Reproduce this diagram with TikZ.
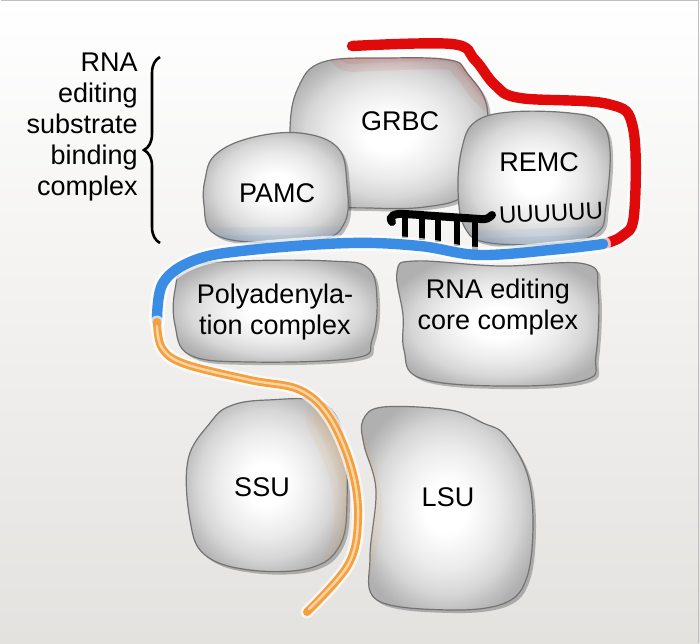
\documentclass[tikz,border=0pt]{standalone}
\usepackage{fontspec}
\setmainfont{Liberation Sans}
\usetikzlibrary{shadows,decorations.pathreplacing}

\definecolor{rnared}{RGB}{225,10,10}
\definecolor{rnablue}{RGB}{58,140,228}
\definecolor{rnaorange}{RGB}{245,160,60}
\definecolor{bgbottom}{RGB}{228,226,223}

\pgfdeclareradialshading{blobshade}{\pgfpoint{0bp}{0bp}}{color(0bp)=(white); color(6bp)=(white);
  color(15bp)=(black!8); color(21bp)=(black!16); color(25bp)=(black!25); color(28bp)=(black!31);
  color(50bp)=(black!31)}

\newcommand\grbcpath{plot[smooth cycle,tension=0.65] coordinates {(323,62) (390,58) (450,60) (467,73)
  (487,107) (482,160) (465,195) (425,207) (370,208) (330,204) (296,180) (290,130) (298,88)}}
\newcommand\pamcpath{plot[smooth cycle,tension=0.65] coordinates {(205,180) (215,155) (250,138) (300,133)
  (338,148) (347,185) (345,222) (320,240) (250,242) (212,232) (204,205)}}
\newcommand\remcpath{plot[smooth cycle,tension=0.65] coordinates {(462,148) (475,122) (510,112) (570,113)
  (600,122) (610,150) (606,205) (598,232) (560,243) (490,243) (465,228) (458,190)}}
\newcommand\polypath{plot[smooth cycle,tension=0.65] coordinates {(175,290) (187,267) (240,261) (330,261)
  (368,268) (377,300) (372,340) (355,358) (250,362) (190,355) (175,325)}}
\newcommand\corepath{plot[smooth cycle,tension=0.65] coordinates {(397,272) (415,261) (500,266) (585,264)
  (598,290) (596,355) (585,380) (500,386) (420,378) (404,350) (403,315)}}
\newcommand\ssupath{plot[smooth cycle,tension=0.65] coordinates {(210,423) (230,406) (267,400) (323,403)
  (343,440) (347,500) (340,545) (310,568) (250,570) (205,555) (190,520) (188,460)}}
\newcommand\lsupath{plot[smooth cycle,tension=0.6] coordinates {(363,420) (383,407) (450,410) (483,423)
  (505,435) (527,473) (533,523) (527,577) (505,603) (450,610) (377,600) (370,557) (376,490) (364,445)}}

\begin{document}
\begin{tikzpicture}[x=0.5pt,y=-0.5pt,
  blob/.style={draw=black!55,line width=0.6pt,shading=blobshade,
    drop shadow={shadow xshift=1.5pt,shadow yshift=-1.5pt,opacity=0.25,fill=black}},
  glow/.style={line width=#1,opacity=0.08,line cap=round},
  lbl/.style={font=\fontsize{13.5}{15.5}\selectfont,align=center,inner sep=0pt},
  rna/.style={line width=5.2pt,line cap=round},
  halo/.style={white,line width=8pt,opacity=0.7,line cap=round},
  tooth/.style={line width=3pt}]

  \shade[top color=white,bottom color=bgbottom] (0,0) rectangle (700,643);
  \draw[black!25,line width=0.5pt] (0.5,0.5) -- (698,0.5) -- (698,643);

  % complexes
  \path[blob] \grbcpath;
  \begin{scope}
    \clip \grbcpath;
    \foreach \w in {10pt,18pt,26pt}
      \draw[glow=\w,rnared] plot[smooth,tension=0.6] coordinates {(352,46) (452,44) (475,60) (495,85)
        (520,98) (605,104)};
  \end{scope}
  \path[blob] \pamcpath;
  \path[blob] \remcpath;
  \path[blob] \polypath;
  \path[blob] \corepath;
  \path[blob] \ssupath;
  \path[blob] \lsupath;
  \begin{scope}
    \clip \pamcpath;
    \foreach \w in {8pt,16pt,24pt}
      \draw[glow=\w,rnablue] (200,252) -- (350,250);
  \end{scope}
  \begin{scope}
    \clip \remcpath;
    \foreach \w in {8pt,16pt,24pt}
      \draw[glow=\w,rnablue] (470,255) -- (603,250);
  \end{scope}
  \begin{scope}
    \clip \ssupath;
    \foreach \w in {8pt,16pt,24pt}
      \draw[glow=\w,rnaorange] plot[smooth,tension=0.6] coordinates {(330,418) (352,470) (358,520) (348,565)};
  \end{scope}
  \begin{scope}
    \clip \lsupath;
    \foreach \w in {8pt,16pt,24pt}
      \draw[glow=\w,rnaorange] plot[smooth,tension=0.6] coordinates {(330,418) (352,470) (358,520) (348,565)};
  \end{scope}

  \node[lbl] (GRBC)  at (400,121) {GRBC};
  \node[lbl] (PAMC)  at (277,193) {PAMC};
  \node[lbl] (REMC)  at (539,162) {REMC};
  \node[lbl] (PolyA) at (275,312) {Polyadenyla-\\tion complex};
  \node[lbl] (Core)  at (498,307) {RNA editing\\core complex};
  \node[lbl] (SSU)   at (262,487) {SSU};
  \node[lbl] (LSU)   at (448,497) {LSU};
  \node[lbl,font=\fontsize{12}{12}\selectfont,rotate=3] (Utail) at (551,213) {UUUUUU};

  \node[lbl,align=right,anchor=east] (Subst) at (138,127) {RNA\\editing\\substrate\\binding\\complex};
  \draw[decorate,decoration={brace,amplitude=8pt},line width=1.3pt] (160,243) -- (160,57);

  % guide RNA
  \draw[line width=4pt,line cap=round] (392,222) .. controls (388,216) and (395,213) .. (405,214)
    -- (480,219) .. controls (486,220) and (489,218) .. (492,215);
  \foreach \x/\y in {405/238,422/240,438/242,457/246,475/250}
    \draw[tooth] (\x,216) -- (\x,\y);

  % mRNA
  \draw[halo] plot[smooth,tension=0.6] coordinates {(352,46) (452,44) (475,60) (495,85)
    (520,98) (608,104) (633,128) (634,215) (622,236) (603,244)};
  \draw[rna,rnared] plot[smooth,tension=0.6] coordinates {(352,46) (452,44) (475,60) (495,85)
    (520,98) (608,104) (633,128) (634,215) (622,236) (603,244)};
  \draw[halo] plot[smooth,tension=0.6] coordinates {(603,244) (560,249)
    (480,255) (420,246) (350,243) (250,250) (195,260) (163,283) (157,322)};
  \draw[rna,rnablue] plot[smooth,tension=0.6] coordinates {(603,244) (560,249)
    (480,255) (420,246) (350,243) (250,250) (195,260) (163,283) (157,322)};
  \draw[halo,line width=6.5pt] plot[smooth,tension=0.6] coordinates {(157,322) (162,348)
    (185,364) (250,380) (300,390) (330,418) (352,470) (358,520) (348,565) (307,612)};
  \draw[rna,line width=4pt,rnaorange] plot[smooth,tension=0.6] coordinates {(157,322) (162,348)
    (185,364) (250,380) (300,390) (330,418) (352,470) (358,520) (348,565) (307,612)};
  \draw[line width=1.2pt,line cap=round,rnaorange!45!white] plot[smooth,tension=0.6] coordinates {(157,326)
    (162,348) (185,364) (250,380) (300,390) (330,418) (352,470) (358,520) (348,565) (309,609)};
\end{tikzpicture}
\end{document}
